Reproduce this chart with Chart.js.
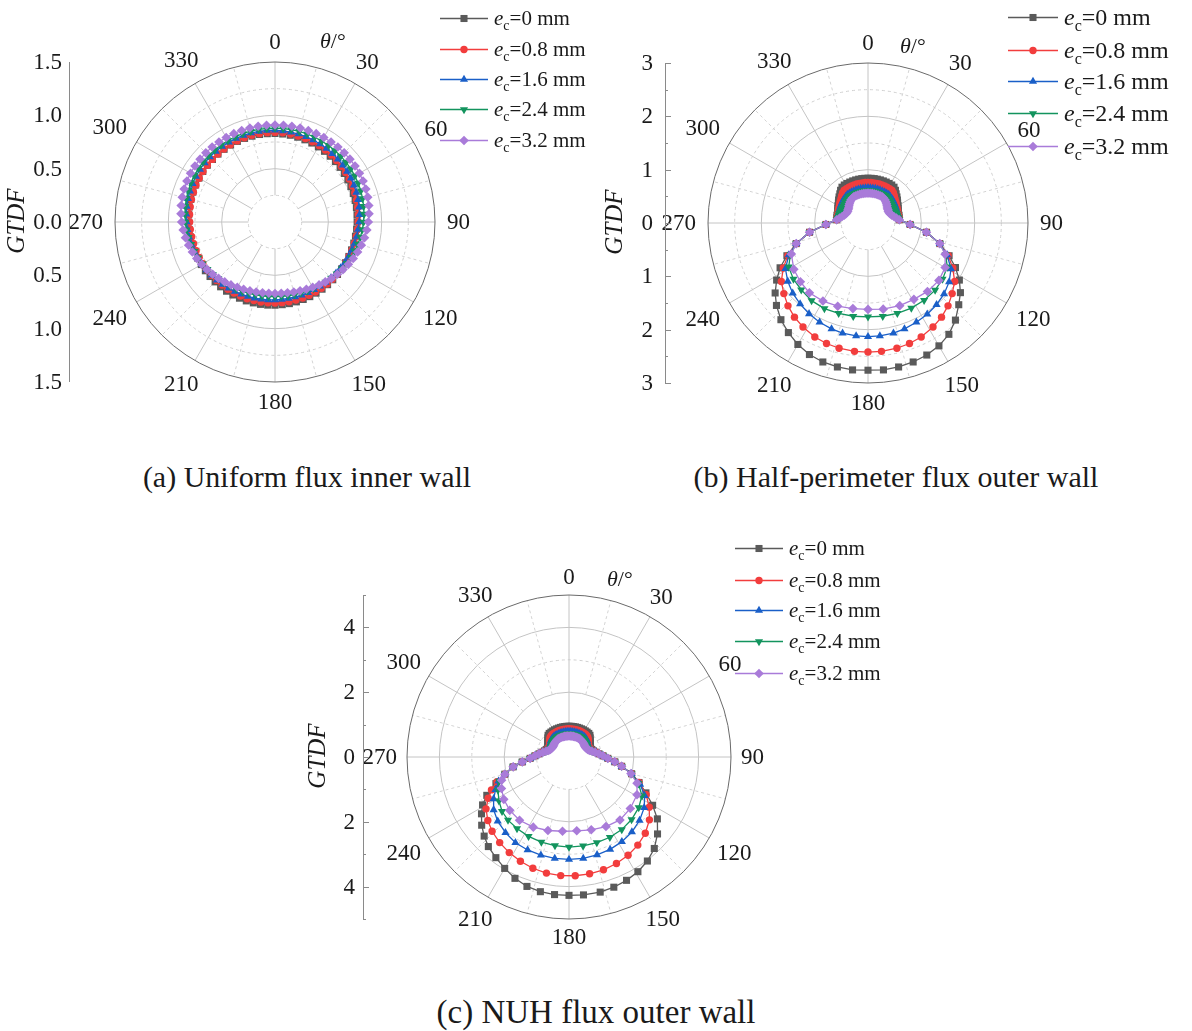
<!DOCTYPE html>
<html>
<head>
<meta charset="utf-8">
<title>GTDF polar distributions</title>
<script src="https://cdn.jsdelivr.net/npm/chart.js@4.4.0/dist/chart.umd.min.js"></script>
<style>
  html, body { margin: 0; padding: 0; background: #fff; }
  body { width: 1192px; height: 1031px; position: relative; overflow: hidden;
         font-family: "Liberation Serif", "Times New Roman", serif; color: #1a1a1a; }
  canvas { position: absolute; }
  .cap { position: absolute; font-size: 30px; line-height: 30px; white-space: nowrap;
         transform: translateX(-50%); color: #1a1a1a; }
</style>
</head>
<body>
<canvas id="chartA" width="600" height="440" style="left:0;top:0"></canvas>
<canvas id="chartB" width="596" height="440" style="left:596px;top:0"></canvas>
<canvas id="chartC" width="600" height="450" style="left:300px;top:520px"></canvas>
<div class="cap" style="left:307px;top:462px">(a) Uniform flux inner wall</div>
<div class="cap" style="left:896px;top:462px">(b) Half-perimeter flux outer wall</div>
<div class="cap" style="left:596px;top:996px;font-size:33px;line-height:33px">(c) NUH flux outer wall</div>

<script>
// ---- eccentricity values shown in the legends ----
const E_VALUES = ['0', '0.8', '1.6', '2.4', '3.2'];

// ---- angle labels around every polar plot (degrees) ----
const ANGLE_TICKS = [0, 30, 60, 90, 120, 150, 180, 210, 240, 270, 300, 330];

// ---- radial axis ticks ----
const A_AXIS_TICKS = [0.0, 0.5, 1.0, 1.5];
const B_AXIS_TICKS = [0, 1, 2, 3];
const B_AXIS_MINOR = [0.5, 1.5, 2.5];
const C_AXIS_TICKS = [0, 2, 4];
const C_AXIS_MINOR = [1, 3, 5];

// ---- (a) uniform flux, inner wall: GTDF every 5 degrees, theta = 0..355 ----
const A_E0  = [.830,.828,.826,.823,.820,.817,.813,.809,.805,.801,.797,.793,.789,.785,.781,.778,.775,.772,.770,.768,.766,.765,.764,.764,.764,.764,.765,.766,.767,.769,.770,.772,.773,.775,.777,.778,.780,
               .782,.784,.785,.787,.788,.790,.792,.793,.794,.795,.797,.798,.800,.802,.804,.806,.808,.810,.812,.815,.817,.819,.821,.823,.826,.828,.829,.831,.832,.833,.834,.834,.833,.833,.831];
const A_E08 = [.840,.839,.837,.835,.833,.830,.827,.824,.820,.816,.812,.808,.804,.800,.796,.791,.787,.784,.780,.777,.774,.771,.768,.766,.764,.762,.761,.760,.759,.758,.758,.758,.758,.758,.759,.759,.760,
               .761,.762,.763,.765,.766,.768,.770,.772,.774,.776,.779,.781,.784,.787,.790,.793,.797,.800,.804,.807,.811,.814,.818,.821,.824,.828,.830,.833,.835,.837,.839,.840,.841,.841,.841];
const A_E16 = [.860,.858,.856,.854,.851,.848,.845,.842,.838,.834,.830,.826,.822,.817,.812,.807,.801,.796,.790,.784,.779,.773,.767,.762,.757,.751,.747,.742,.739,.735,.732,.730,.729,.728,.728,.729,.730,
               .732,.735,.738,.743,.747,.752,.758,.764,.771,.777,.784,.791,.798,.805,.812,.818,.824,.830,.836,.841,.845,.849,.853,.856,.859,.861,.863,.864,.865,.865,.865,.865,.864,.863,.862];
const A_E24 = [.880,.880,.879,.879,.878,.877,.877,.876,.874,.873,.870,.868,.864,.861,.856,.850,.844,.838,.830,.822,.813,.804,.794,.785,.775,.765,.755,.745,.737,.728,.721,.714,.709,.705,.702,.700,.700,
               .701,.704,.707,.712,.719,.726,.734,.743,.752,.762,.773,.783,.794,.804,.814,.823,.832,.840,.847,.854,.860,.865,.870,.873,.876,.878,.880,.881,.881,.882,.882,.882,.881,.881,.880];
const A_E32 = [.910,.910,.911,.912,.913,.914,.915,.916,.917,.917,.917,.916,.914,.911,.906,.900,.893,.885,.875,.864,.852,.838,.824,.809,.794,.778,.763,.748,.733,.720,.707,.696,.687,.680,.674,.671,.670,
               .671,.674,.680,.687,.696,.707,.720,.733,.748,.763,.778,.794,.809,.824,.838,.852,.864,.875,.885,.893,.900,.906,.911,.914,.916,.917,.917,.917,.916,.915,.914,.913,.912,.911,.910];

// ---- (b) half-perimeter flux, outer wall: [theta in degrees, GTDF] ----
const B_E0  = [[0,.84],[4,.84],[8,.84],[12,.84],[16,.84],[20,.84],[24,.84],[28,.84],[32,.84],[36,.83],[40,.80],[44,.76],[48,.73],[52,.70],[56,.67],[60,.65],[64,.63],[68,.61],[72,.60],[76,.60],[80,.59],[84,.59],
               [92,.79],[99,1.11],[106,1.40],[112,1.64],[117,1.84],[122,2.02],[127,2.17],[132,2.29],[138,2.45],[144,2.58],[150,2.66],[156,2.71],[162,2.74],[168,2.76],[174,2.77],[180,2.76],[186,2.77],[192,2.76],[198,2.74],[204,2.70],[210,2.63],[216,2.54],[222,2.44],[228,2.31],[233,2.18],[238,2.02],[243,1.85],[248,1.64],[254,1.40],[261,1.11],[268,.79],
               [276,.59],[280,.59],[284,.60],[288,.60],[292,.61],[296,.63],[300,.65],[304,.67],[308,.70],[312,.73],[316,.76],[320,.80],[324,.83],[328,.84],[332,.84],[336,.84],[340,.84],[344,.84],[348,.84],[352,.84],[356,.84]];
const B_E08 = [[0,.76],[4,.76],[8,.76],[12,.76],[16,.76],[20,.76],[24,.76],[28,.76],[32,.76],[36,.76],[40,.74],[44,.71],[48,.68],[52,.66],[56,.64],[60,.62],[64,.61],[68,.60],[72,.59],[76,.59],[80,.59],[84,.59],
               [92,.79],[99,1.11],[106,1.40],[112,1.62],[118,1.80],[124,1.96],[130,2.06],[136,2.16],[142,2.24],[148,2.30],[155,2.36],[161,2.39],[167,2.41],[174,2.42],[180,2.42],[186,2.42],[193,2.41],[199,2.39],[205,2.36],[212,2.30],[218,2.24],[224,2.16],[230,2.06],[236,1.96],[242,1.80],[248,1.62],[254,1.40],[261,1.11],[268,.79],
               [276,.59],[280,.59],[284,.59],[288,.59],[292,.60],[296,.61],[300,.62],[304,.64],[308,.66],[312,.68],[316,.71],[320,.74],[324,.76],[328,.76],[332,.76],[336,.76],[340,.76],[344,.76],[348,.76],[352,.76],[356,.76]];
const B_E16 = [[0,.66],[4,.66],[8,.66],[12,.66],[16,.66],[20,.66],[24,.66],[28,.66],[32,.66],[36,.66],[40,.65],[44,.64],[48,.63],[52,.62],[56,.61],[60,.60],[64,.59],[68,.58],[72,.58],[76,.58],[80,.58],[84,.59],
               [92,.79],[99,1.11],[106,1.40],[112,1.60],[119,1.78],[126,1.88],[133,1.95],[140,2.00],[147,2.04],[154,2.07],[161,2.10],[167,2.12],[174,2.13],[180,2.13],[186,2.13],[193,2.12],[199,2.10],[206,2.07],[213,2.03],[220,1.98],[227,1.93],[234,1.86],[241,1.77],[248,1.60],[254,1.40],[261,1.11],[268,.79],
               [276,.59],[280,.58],[284,.58],[288,.58],[292,.58],[296,.59],[300,.60],[304,.61],[308,.62],[312,.63],[316,.64],[320,.65],[324,.66],[328,.66],[332,.66],[336,.66],[340,.66],[344,.66],[348,.66],[352,.66],[356,.66]];
const B_E24 = [[0,.61],[4,.61],[8,.61],[12,.61],[16,.61],[20,.61],[24,.61],[28,.61],[32,.61],[36,.61],[40,.60],[44,.59],[48,.58],[52,.57],[56,.56],[60,.56],[64,.56],[68,.56],[72,.57],[76,.57],[80,.58],[84,.59],
               [92,.79],[99,1.11],[106,1.40],[112,1.57],[119,1.70],[127,1.75],[135,1.78],[144,1.79],[153,1.79],[162,1.78],[171,1.77],[180,1.76],[189,1.77],[198,1.78],[207,1.80],[216,1.80],[225,1.77],[233,1.75],[241,1.70],[248,1.57],[254,1.40],[261,1.11],[268,.79],
               [276,.59],[280,.58],[284,.57],[288,.57],[292,.56],[296,.56],[300,.56],[304,.56],[308,.57],[312,.58],[316,.59],[320,.60],[324,.61],[328,.61],[332,.61],[336,.61],[340,.61],[344,.61],[348,.61],[352,.61],[356,.61]];
const B_E32 = [[0,.56],[4,.56],[8,.56],[12,.56],[16,.56],[20,.56],[24,.56],[28,.56],[32,.55],[36,.54],[40,.52],[44,.50],[48,.48],[52,.46],[56,.45],[60,.44],[64,.44],[68,.45],[72,.47],[76,.50],[80,.54],[84,.59],
               [92,.79],[99,1.11],[106,1.40],[112,1.56],[120,1.67],[129,1.71],[139,1.70],[149,1.67],[159,1.66],[170,1.64],[180,1.62],[190,1.63],[200,1.66],[210,1.69],[220,1.71],[229,1.68],[238,1.64],[248,1.55],[254,1.40],[261,1.11],[268,.79],
               [276,.59],[280,.54],[284,.50],[288,.47],[292,.45],[296,.44],[300,.44],[304,.45],[308,.46],[312,.48],[316,.50],[320,.52],[324,.54],[328,.55],[332,.56],[336,.56],[340,.56],[344,.56],[348,.56],[352,.56],[356,.56]];

// ---- (c) NUH flux, outer wall: [theta in degrees, GTDF] ----
const C_E0  = [[0,.95],[4,.95],[8,.95],[12,.95],[16,.95],[20,.95],[24,.95],[28,.95],[32,.95],[36,.95],[40,.95],[44,.93],[48,.88],[52,.83],[56,.79],[60,.75],[64,.73],[68,.72],[72,.74],[76,.78],[80,.85],[84,.93],
               [88,1.05],[92,1.20],[96,1.42],[100,1.65],[105,2.00],[110,2.30],[115,2.62],[120,2.98],[125,3.33],[131,3.62],[137,3.86],[143,4.02],[149,4.13],[155,4.20],[161,4.25],[167,4.28],[174,4.28],[180,4.27],[186,4.27],[192,4.25],[198,4.20],[204,4.10],[210,3.97],[216,3.84],[222,3.72],[227,3.58],[232,3.42],[237,3.22],[241,3.05],[245,2.80],[250,2.40],[255,2.05],[260,1.75],[264,1.45],[268,1.20],[272,1.05],
               [276,.93],[280,.85],[284,.78],[288,.74],[292,.72],[296,.73],[300,.75],[304,.79],[308,.83],[312,.88],[316,.93],[320,.95],[324,.95],[328,.95],[332,.95],[336,.95],[340,.95],[344,.95],[348,.95],[352,.95],[356,.95]];
const C_E08 = [[0,.87],[4,.87],[8,.87],[12,.87],[16,.87],[20,.87],[24,.87],[28,.87],[32,.87],[36,.87],[40,.86],[44,.84],[48,.80],[52,.76],[56,.72],[60,.70],[64,.69],[68,.70],[72,.72],[76,.77],[80,.85],[84,.93],
               [88,1.05],[92,1.20],[96,1.42],[100,1.65],[105,2.00],[110,2.30],[116,2.65],[122,2.92],[128,3.15],[135,3.33],[142,3.45],[149,3.54],[156,3.60],[163,3.64],[170,3.66],[177,3.67],[184,3.67],[191,3.65],[198,3.61],[205,3.55],[212,3.48],[219,3.40],[226,3.30],[232,3.18],[238,3.02],[243,2.80],[247,2.60],[251,2.35],[255,2.05],[260,1.75],[264,1.45],[268,1.20],[272,1.05],
               [276,.93],[280,.85],[284,.77],[288,.72],[292,.70],[296,.69],[300,.70],[304,.72],[308,.76],[312,.80],[316,.84],[320,.86],[324,.87],[328,.87],[332,.87],[336,.87],[340,.87],[344,.87],[348,.87],[352,.87],[356,.87]];
const C_E16 = [[0,.79],[4,.79],[8,.79],[12,.79],[16,.79],[20,.79],[24,.79],[28,.79],[32,.79],[36,.79],[40,.78],[44,.77],[48,.75],[52,.72],[56,.69],[60,.67],[64,.66],[68,.67],[72,.70],[76,.76],[80,.84],[84,.93],
               [88,1.05],[92,1.20],[96,1.42],[100,1.65],[105,2.00],[111,2.35],[117,2.62],[124,2.80],[132,2.93],[140,3.02],[148,3.08],[156,3.12],[164,3.14],[172,3.16],[180,3.16],[188,3.16],[196,3.15],[204,3.14],[212,3.12],[220,3.05],[228,2.96],[235,2.84],[241,2.66],[246,2.48],[251,2.30],[255,2.05],[260,1.75],[264,1.45],[268,1.20],[272,1.05],
               [276,.93],[280,.84],[284,.76],[288,.70],[292,.67],[296,.66],[300,.67],[304,.69],[308,.72],[312,.75],[316,.77],[320,.78],[324,.79],[328,.79],[332,.79],[336,.79],[340,.79],[344,.79],[348,.79],[352,.79],[356,.79]];
const C_E24 = [[0,.72],[4,.72],[8,.72],[12,.72],[16,.72],[20,.72],[24,.72],[28,.72],[32,.72],[36,.72],[40,.71],[44,.70],[48,.69],[52,.67],[56,.65],[60,.64],[64,.64],[68,.65],[72,.69],[76,.75],[80,.83],[84,.93],
               [88,1.05],[92,1.20],[96,1.42],[100,1.65],[105,2.00],[111,2.30],[118,2.55],[126,2.66],[135,2.73],[144,2.77],[153,2.78],[162,2.78],[171,2.78],[180,2.78],[189,2.77],[198,2.76],[207,2.75],[216,2.73],[224,2.71],[231,2.66],[238,2.55],[245,2.42],[251,2.28],[255,2.05],[260,1.75],[264,1.45],[268,1.20],[272,1.05],
               [276,.93],[280,.83],[284,.75],[288,.69],[292,.65],[296,.64],[300,.64],[304,.65],[308,.67],[312,.69],[316,.70],[320,.71],[324,.72],[328,.72],[332,.72],[336,.72],[340,.72],[344,.72],[348,.72],[352,.72],[356,.72]];
const C_E32 = [[0,.65],[4,.65],[8,.65],[12,.65],[16,.65],[20,.65],[24,.65],[28,.65],[32,.65],[36,.64],[40,.63],[44,.62],[48,.61],[52,.60],[56,.59],[60,.59],[64,.60],[68,.62],[72,.66],[76,.73],[80,.82],[84,.93],
               [88,1.05],[92,1.20],[96,1.42],[100,1.65],[105,1.98],[111,2.25],[119,2.40],[130,2.47],[141,2.50],[152,2.43],[163,2.35],[174,2.29],[185,2.30],[196,2.36],[207,2.43],[218,2.48],[228,2.46],[237,2.40],[245,2.30],[251,2.20],[255,2.05],[260,1.75],[264,1.45],[268,1.20],[272,1.05],
               [276,.93],[280,.82],[284,.73],[288,.66],[292,.62],[296,.60],[300,.59],[304,.59],[308,.60],[312,.61],[316,.62],[320,.63],[324,.64],[328,.65],[332,.65],[336,.65],[340,.65],[344,.65],[348,.65],[352,.65],[356,.65]];

// ---- series appearance ----
const COLORS = ['#5a5a5a', '#f23d3d', '#1a5fc8', '#13945e', '#a97bd9'];
const MARKERS = [
  { style: 'rect',     r: 5.0, rot: 0 },
  { style: 'circle',   r: 3.7, rot: 0 },
  { style: 'triangle', r: 4.7, rot: 0 },
  { style: 'triangle', r: 4.7, rot: 180 },
  { style: 'rectRot',  r: 4.8, rot: 0 }
];
const SERIF = '"Liberation Serif", "Times New Roman", serif';
const TICK_FONT = '23px ' + SERIF;

// Spread [theta, value] samples onto a 1-degree category ring (gaps are spanned).
function onDegreeRing(pairs) {
  const ring = new Array(360).fill(null);
  pairs.forEach(([deg, v]) => { ring[deg % 360] = v; });
  return ring;
}

// Legend glyphs (line + marker), same shapes as the plotted points.
function legendMarker(ctx, m, x, y, color) {
  ctx.save();
  ctx.fillStyle = color;
  ctx.translate(x, y);
  ctx.rotate(m.rot * Math.PI / 180);
  ctx.beginPath();
  const r = m.r;
  if (m.style === 'rect') {
    const h = r * Math.SQRT1_2;
    ctx.rect(-h, -h, 2 * h, 2 * h);
  } else if (m.style === 'circle') {
    ctx.arc(0, 0, r, 0, Math.PI * 2);
  } else if (m.style === 'triangle') {
    for (let k = 0; k < 3; k++) {
      const a = k * 2 * Math.PI / 3;
      const px = Math.sin(a) * r, py = -Math.cos(a) * r;
      k === 0 ? ctx.moveTo(px, py) : ctx.lineTo(px, py);
    }
    ctx.closePath();
  } else {
    ctx.moveTo(0, -r); ctx.lineTo(r, 0); ctx.lineTo(0, r); ctx.lineTo(-r, 0); ctx.closePath();
  }
  ctx.fill();
  ctx.restore();
}

// Polar grid, left GTDF axis, angle labels and legend for one panel.
function panelDecor(opt) {
  return {
    id: 'panelDecor',
    beforeDatasetsDraw(chart) {
      const s = chart.scales.r, ctx = chart.ctx;
      const cx = s.xCenter, cy = s.yCenter, R = s.drawingArea;
      ctx.save();
      ctx.lineWidth = 1;
      const ring = (v, color, dash) => {
        ctx.beginPath();
        ctx.setLineDash(dash);
        ctx.strokeStyle = color;
        ctx.arc(cx, cy, s.getDistanceFromCenterForValue(v), 0, Math.PI * 2);
        ctx.stroke();
      };
      opt.dashedRings.forEach(v => ring(v, '#d0d0d0', [3, 3]));
      opt.solidRings.forEach(v => ring(v, '#c4c4c4', []));
      for (let a = 0; a < 360; a += 15) {
        const major = a % 30 === 0;
        const idx = a / opt.step;
        const p0 = s.getPointPosition(idx, s.getDistanceFromCenterForValue(major ? opt.spokeFrom : opt.dashSpokeFrom));
        const p1 = s.getPointPosition(idx, R);
        ctx.beginPath();
        ctx.setLineDash(major ? [] : [3, 3]);
        ctx.strokeStyle = major ? '#c4c4c4' : '#d4d4d4';
        ctx.moveTo(p0.x, p0.y);
        ctx.lineTo(p1.x, p1.y);
        ctx.stroke();
      }
      ring(opt.max, '#6a6a6a', []);
      ctx.restore();
    },
    afterDraw(chart) {
      const s = chart.scales.r, ctx = chart.ctx;
      const cx = s.xCenter, cy = s.yCenter, R = s.drawingArea;
      ctx.save();
      ctx.fillStyle = '#1a1a1a';

      // angle labels
      ctx.font = TICK_FONT;
      ctx.textAlign = 'center';
      ctx.textBaseline = 'middle';
      ANGLE_TICKS.forEach(a => {
        const txt = String(a);
        const w = ctx.measureText(txt).width;
        const rad = a * Math.PI / 180;
        const d = R + opt.labelGap + Math.abs(Math.sin(rad)) * w / 2 + Math.abs(Math.cos(rad)) * 8;
        const p = s.getPointPosition(a / opt.step, d);
        ctx.fillText(txt, p.x, p.y + 1);
      });

      // theta unit label
      ctx.textAlign = 'left';
      ctx.font = 'italic 22px ' + SERIF;
      const tx = cx + opt.thetaDx, ty = cy + opt.thetaDy;
      ctx.fillText('\u03b8', tx, ty);
      const tw = ctx.measureText('\u03b8').width;
      ctx.font = '22px ' + SERIF;
      ctx.fillText('/\u00b0', tx + tw, ty);

      // left radial axis, mirrored above and below the centre
      ctx.strokeStyle = '#8a8a8a';
      ctx.lineWidth = 1;
      ctx.beginPath();
      ctx.moveTo(opt.axisX + 0.5, cy - R);
      ctx.lineTo(opt.axisX + 0.5, cy + R);
      ctx.stroke();
      const tick = (v, len) => {
        const d = s.getDistanceFromCenterForValue(v);
        [-1, 1].forEach(sg => {
          ctx.beginPath();
          ctx.moveTo(opt.axisX, Math.round(cy + sg * d) + 0.5);
          ctx.lineTo(opt.axisX + len, Math.round(cy + sg * d) + 0.5);
          ctx.stroke();
        });
      };
      if (opt.majorLen) opt.axisTicks.forEach(v => tick(v, opt.majorLen));
      if (opt.minorLen) opt.axisMinor.forEach(v => tick(v, opt.minorLen));
      ctx.textAlign = 'right';
      ctx.textBaseline = 'middle';
      ctx.font = TICK_FONT;
      opt.axisTicks.forEach(v => {
        const d = s.getDistanceFromCenterForValue(v);
        const txt = v.toFixed(opt.decimals);
        ctx.fillText(txt, opt.labelRight, cy - d + 1);
        if (v !== 0) ctx.fillText(txt, opt.labelRight, cy + d + 1);
      });

      // GTDF title
      ctx.save();
      ctx.translate(opt.titleX, cy - 1);
      ctx.rotate(-Math.PI / 2);
      ctx.textAlign = 'center';
      ctx.font = 'italic 25px ' + SERIF;
      ctx.fillText('GTDF', 0, 0);
      ctx.restore();

      // legend
      const lg = opt.legend;
      E_VALUES.forEach((e, i) => {
        const x = lg.x, y = lg.y[i];
        ctx.strokeStyle = COLORS[i];
        ctx.lineWidth = 1.3;
        ctx.beginPath();
        ctx.moveTo(x, y + 0.5);
        ctx.lineTo(x + lg.line, y + 0.5);
        ctx.stroke();
        legendMarker(ctx, MARKERS[i], x + lg.line / 2, y + 0.5, COLORS[i]);
        ctx.fillStyle = '#1a1a1a';
        ctx.textAlign = 'left';
        ctx.textBaseline = 'alphabetic';
        let lx = x + lg.line + 6;
        const base = y + Math.round(lg.size * 0.34);
        ctx.font = 'italic ' + lg.size + 'px ' + SERIF;
        ctx.fillText('e', lx, base);
        lx += ctx.measureText('e').width;
        ctx.font = Math.round(lg.size * 0.66) + 'px ' + SERIF;
        ctx.fillText('c', lx, base + Math.round(lg.size * 0.24));
        lx += ctx.measureText('c').width;
        ctx.font = lg.size + 'px ' + SERIF;
        ctx.fillText('=' + e + ' mm', lx, base);
      });
      ctx.restore();
    }
  };
}

function polarPanel(id, series, opt) {
  const labels = Array.from({ length: 360 / opt.step }, (_, i) => i * opt.step);
  const datasets = series.map((data, i) => ({
    label: 'e=' + E_VALUES[i] + ' mm',
    data: data,
    borderColor: COLORS[i],
    backgroundColor: COLORS[i],
    pointBackgroundColor: COLORS[i],
    pointBorderWidth: 0,
    borderWidth: 1.3,
    fill: false,
    spanGaps: true,
    tension: 0,
    pointStyle: MARKERS[i].style,
    pointRadius: MARKERS[i].r,
    pointHoverRadius: MARKERS[i].r,
    pointRotation: MARKERS[i].rot,
    order: 5 - i
  }));
  return new Chart(document.getElementById(id), {
    type: 'radar',
    data: { labels, datasets },
    options: {
      responsive: false,
      animation: false,
      events: [],
      layout: { padding: opt.padding },
      plugins: { legend: { display: false }, tooltip: { enabled: false } },
      scales: {
        r: {
          min: 0, max: opt.max,
          ticks: { display: false },
          grid: { display: false },
          angleLines: { display: false },
          pointLabels: { display: false }
        }
      }
    },
    plugins: [panelDecor(opt)]
  });
}

// (a) centre (275,222), radius 160
polarPanel('chartA', [A_E0, A_E08, A_E16, A_E24, A_E32], {
  step: 5, max: 1.5,
  padding: { left: 115, top: 62, right: 165, bottom: 58 },
  solidRings: [0.5, 1.0], dashedRings: [0.25, 0.75, 1.25],
  spokeFrom: 0.25, dashSpokeFrom: 0.5,
  labelGap: 12, thetaDx: 45, thetaDy: -180,
  axisX: 69, labelRight: 62, axisTicks: A_AXIS_TICKS, axisMinor: [], majorLen: 0, minorLen: 0, decimals: 1,
  titleX: 17,
  legend: { x: 440, y: [18, 49, 79, 109, 140], line: 48, size: 21 }
});

// (b) centre (868,223) on page, radius 160
polarPanel('chartB', [B_E0, B_E08, B_E16, B_E24, B_E32].map(onDegreeRing), {
  step: 1, max: 3,
  padding: { left: 112, top: 63, right: 164, bottom: 57 },
  solidRings: [1, 2], dashedRings: [0.5, 1.5, 2.5],
  spokeFrom: 0.5, dashSpokeFrom: 1,
  labelGap: 12, thetaDx: 32, thetaDy: -176,
  axisX: 69, labelRight: 57, axisTicks: B_AXIS_TICKS, axisMinor: B_AXIS_MINOR, majorLen: 6, minorLen: 3, decimals: 0,
  titleX: 19,
  legend: { x: 412, y: [17, 50, 81, 113, 146], line: 50, size: 24 }
});

// (c) centre (569,757) on page, radius 162
polarPanel('chartC', [C_E0, C_E08, C_E16, C_E24, C_E32].map(onDegreeRing), {
  step: 1, max: 5,
  padding: { left: 107, top: 75, right: 169, bottom: 51 },
  solidRings: [2, 4], dashedRings: [1, 3],
  spokeFrom: 1, dashSpokeFrom: 2,
  labelGap: 10, thetaDx: 38, thetaDy: -177,
  axisX: 63, labelRight: 55, axisTicks: C_AXIS_TICKS, axisMinor: C_AXIS_MINOR, majorLen: 6, minorLen: 3, decimals: 0,
  titleX: 18,
  legend: { x: 435, y: [28, 60, 90, 121, 153], line: 48, size: 21 }
});
</script>
</body>
</html>
